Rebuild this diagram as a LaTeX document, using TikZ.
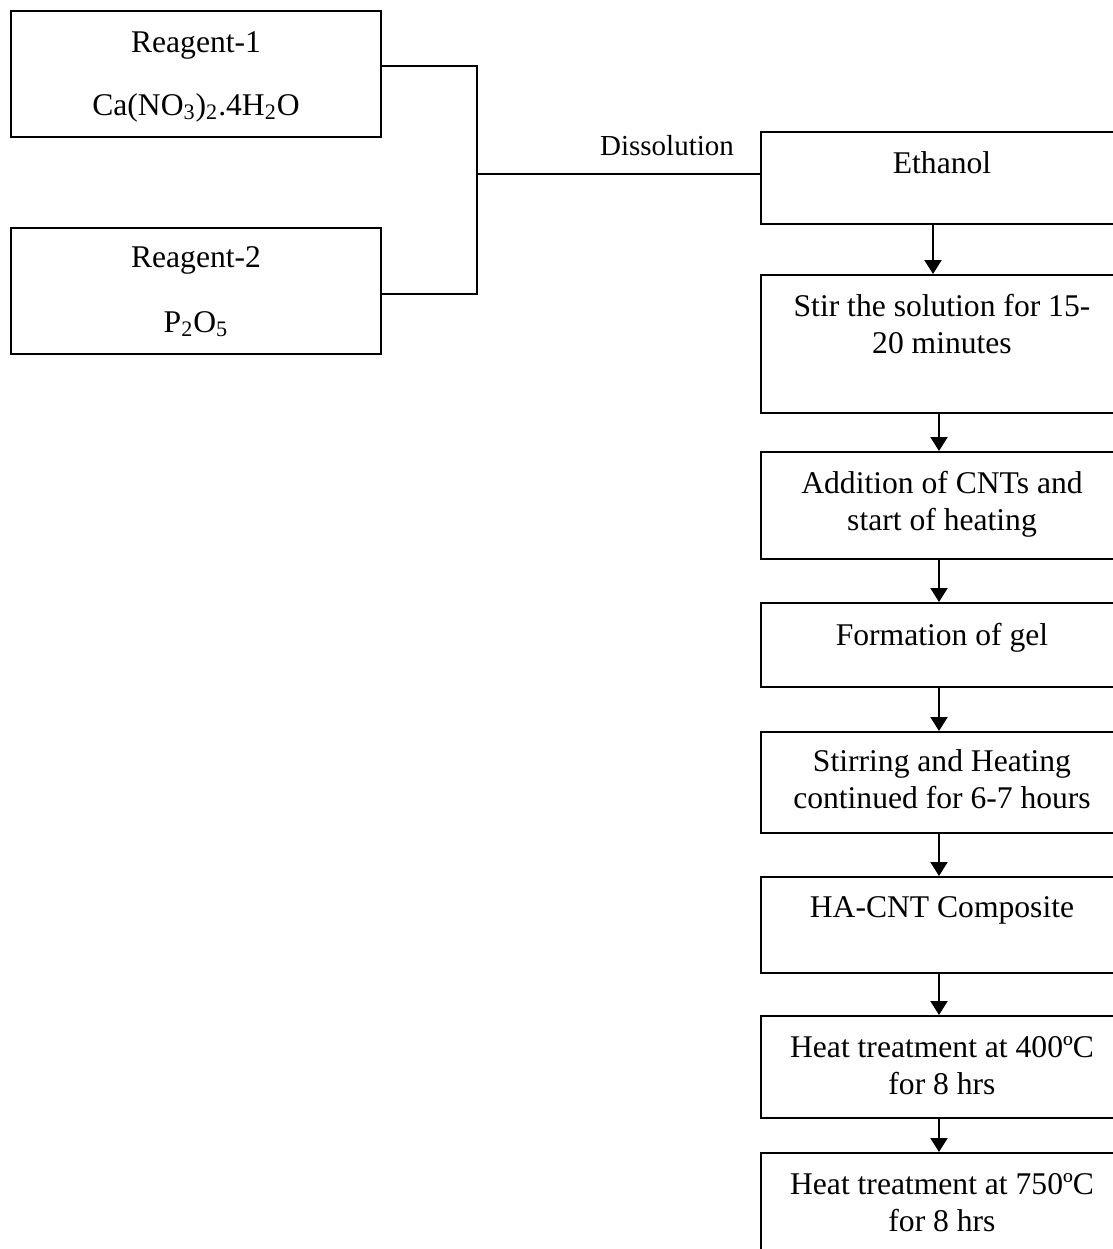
\documentclass[tikz,border=0pt]{standalone}
\usepackage{fontspec}
\setmainfont{Liberation Serif}
\usetikzlibrary{arrows.meta}
\begin{document}
\begin{tikzpicture}[x=0.5pt,y=-0.5pt,
 box/.style={draw, line width=1pt, minimum width=181pt, inner sep=0pt},
 lbox/.style={draw, line width=1pt, minimum width=185pt, minimum height=63pt, inner sep=0pt},
 txt/.style={inner sep=0pt, font=\fontsize{15.8pt}{18.35pt}\selectfont, align=center},
 arr/.style={line width=1pt, -{Triangle[width=8.5pt,length=7pt]}},
 link/.style={line width=1pt}]
\useasboundingbox (0,0) rectangle (1113,1249);
\clip (0,0) rectangle (1113,1249);
% left reagent boxes
\node[lbox] (r1) at (196,73.5) {};
\node[txt, anchor=base] (r1a) at (196,52) {Reagent-1};
\node[txt, anchor=base] (r1b) at (196,115) {Ca(NO\textsubscript{3})\textsubscript{2}.4H\textsubscript{2}O};
\node[lbox] (r2) at (196,290.5) {};
\node[txt, anchor=base] (r2a) at (196,267) {Reagent-2};
\node[txt, anchor=base] (r2b) at (196,332) {P\textsubscript{2}O\textsubscript{5}};
% right process boxes
\node[box, minimum height=46pt] (eth) at (942,178) {};
\node[txt, anchor=base] (etht) at (942,173) {Ethanol};
\node[box, minimum height=69pt] (stir) at (942,344) {};
\node[txt, anchor=north] (stirt) at (942,294) {Stir the solution for 15-\\20 minutes};
\node[box, minimum height=53.5pt] (add) at (942,505.5) {};
\node[txt, anchor=north] (addt) at (942,471) {Addition of CNTs and\\start of heating};
\node[box, minimum height=42pt] (form) at (942,645) {};
\node[txt, anchor=base] (formt) at (942,645) {Formation of gel};
\node[box, minimum height=50.5pt] (stirh) at (942,782.5) {};
\node[txt, anchor=north] (stirht) at (942,749) {Stirring and Heating\\continued for 6-7 hours};
\node[box, minimum height=48pt] (ha) at (942,925) {};
\node[txt, anchor=base] (hat) at (942,917) {HA-CNT Composite};
\node[box, minimum height=51pt] (hfour) at (942,1067) {};
\node[txt, anchor=north] (hfourt) at (942,1036) {Heat treatment at 400ºC\\for 8 hrs};
\node[box, minimum height=58.5pt] (hseven) at (942,1211.5) {};
\node[txt, anchor=north] (hsevent) at (942,1173) {Heat treatment at 750ºC\\for 8 hrs};
% connectors
\coordinate (j) at (477,174);
\draw[link] ([yshift=3.75pt]r1.east) -| (j) |- ([yshift=-1.75pt]r2.east);
\draw[link] (j) -- (j -| eth.west);
\node[font=\fontsize{14.5pt}{17pt}\selectfont, inner sep=0pt, anchor=base] (dis) at (667,155) {Dissolution};
\draw[arr] ([xshift=-4.5pt]eth.south) -- ([xshift=-4.5pt]stir.north);
\draw[arr] ([xshift=-1.5pt]stir.south) -- ([xshift=-1.5pt]add.north);
\draw[arr] ([xshift=-1.5pt]add.south) -- ([xshift=-1.5pt]form.north);
\draw[arr] ([xshift=-1.5pt]form.south) -- ([xshift=-1.5pt]stirh.north);
\draw[arr] ([xshift=-1.5pt]stirh.south) -- ([xshift=-1.5pt]ha.north);
\draw[arr] ([xshift=-1.5pt]ha.south) -- ([xshift=-1.5pt]hfour.north);
\draw[arr] ([xshift=-1.5pt]hfour.south) -- ([xshift=-1.5pt]hseven.north);
\end{tikzpicture}
\end{document}
